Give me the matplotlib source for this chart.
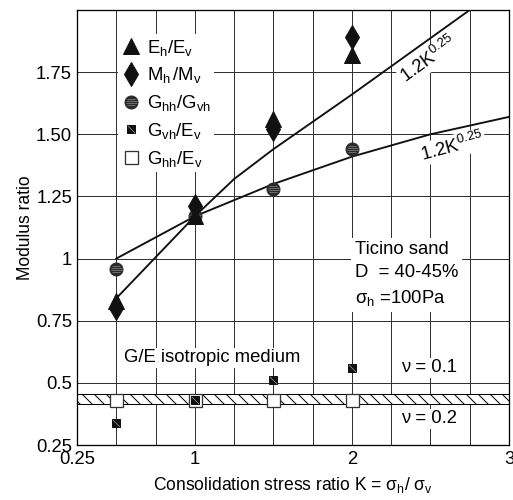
import numpy as np
import matplotlib
matplotlib.use("Agg")
import matplotlib.pyplot as plt
from matplotlib.path import Path
from matplotlib.lines import Line2D

plt.rcParams['font.family'] = 'Liberation Sans'
plt.rcParams['mathtext.fontset'] = 'custom'
plt.rcParams['mathtext.rm'] = 'Liberation Sans'
plt.rcParams['mathtext.it'] = 'Liberation Sans'
plt.rcParams['mathtext.default'] = 'regular'

# measured moduli vs consolidation stress ratio
K = [0.5, 1.0, 1.5, 2.0]
eh_ev = [0.83, 1.17, 1.56, 1.82]
mh_mv = [0.80, 1.21, 1.52, 1.89]
ghh_gvh = [0.96, 1.17, 1.28, 1.44]
gvh_ev = [0.34, 0.43, 0.51, 0.56]
ghh_ev = [0.43, 0.43, 0.43, 0.43]

# fitted trend lines
fit_upper_k = [0.5, 1.0, 1.25, 1.5, 2.0, 2.75]
fit_upper = [0.84, 1.17, 1.32, 1.44, 1.66, 2.0]
fit_lower_k = [0.5, 1.0, 1.5, 2.0, 2.5, 3.0]
fit_lower = [1.0, 1.17, 1.30, 1.41, 1.50, 1.57]

# isotropic G/E band (nu = 0.1 .. 0.2)
band_k = [0.25, 3.0]
band_top = 0.455
band_bottom = 0.415

x_ticks = [0.25, 0.5, 0.75, 1.0, 1.25, 1.5, 1.75, 2.0, 2.25, 2.5, 2.75, 3.0]
x_labels = ['0.25', '', '', '1', '', '', '', '2', '', '', '', '3']
y_ticks = [0.25, 0.5, 0.75, 1.0, 1.25, 1.5, 1.75, 2.0]
y_labels = ['0.25', '0.5', '0.75', '1', '1.25', '1.50', '1.75', '']

# marker decorations
stripes = Path([(-0.8, 0.5), (0.8, 0.5), (-1.0, 0.17), (1.0, 0.17),
                (-1.0, -0.17), (1.0, -0.17), (-0.8, -0.5), (0.8, -0.5)],
               [Path.MOVETO, Path.LINETO] * 4)
diag = Path([(-1, 1), (1, -1)], [Path.MOVETO, Path.LINETO])

fig = plt.figure(figsize=(513 / 72, 500 / 72), dpi=72)
ax = fig.add_axes([77 / 513, 55 / 500, 432 / 513, 435 / 500])

ax.set_xlim(0.25, 3.0)
ax.set_ylim(0.25, 2.0)
ax.set_xticks(x_ticks)
ax.set_xticklabels(x_labels)
ax.set_yticks(y_ticks)
ax.set_yticklabels(y_labels)
ax.tick_params(length=0, labelsize=18.5, pad=6)
ax.tick_params(axis='y', pad=5)
ax.set_axisbelow(True)
ax.grid(True, color='#333333', lw=1.0)
for s in ax.spines.values():
    s.set_linewidth(1.3)

ax.fill_between(band_k, band_bottom, band_top, facecolor='white',
                edgecolor='black', hatch='\\\\', lw=1.0, zorder=2)

ax.plot(fit_upper_k, fit_upper, color='#111111', lw=1.9, zorder=4)
ax.plot(fit_lower_k, fit_lower, color='#111111', lw=1.9, zorder=4)

ax.plot(K, ghh_gvh, ls='none', marker='o', ms=13, color='#2a2a2a', zorder=5)
ax.plot(K, ghh_gvh, ls='none', marker=stripes, ms=11, mec='#888888', mew=0.7, zorder=5)
ax.plot(K, mh_mv, ls='none', marker='d', ms=17, color='#111111', zorder=5)
ax.plot(K, eh_ev, ls='none', marker='^', ms=16, color='#111111', zorder=6)
ax.plot(K, ghh_ev, ls='none', marker='s', ms=13, mfc='white', mec='#333333', mew=1.3, zorder=5)
ax.plot(K, gvh_ev, ls='none', marker='s', ms=8, color='#111111', zorder=6)
ax.plot(K, gvh_ev, ls='none', marker=diag, ms=7, mec='#999999', mew=0.7, zorder=6)

white = dict(facecolor='white', edgecolor='none', pad=1.5)
ax.text(2.49, 1.80, r'1.2K$^{0.25}$', fontsize=18.5, rotation=36,
        ha='center', va='center', bbox=white, zorder=3)
ax.text(2.64, 1.45, r'1.2K$^{0.25}$', fontsize=18.5, rotation=15,
        ha='center', va='center', bbox=white, zorder=3)
ax.text(0.55, 0.60, 'G/E isotropic medium', fontsize=18.5, ha='left',
        va='center', bbox=white, zorder=3)
ax.text(2.31, 0.56, 'ν = 0.1', fontsize=18.5, ha='left', va='center',
        bbox=white, zorder=3)
ax.text(2.31, 0.355, 'ν = 0.2', fontsize=18.5, ha='left', va='center',
        bbox=white, zorder=3)
ax.text(2.02, 0.935, 'Ticino sand\nD  = 40-45%\n$σ_h$ =100Pa', fontsize=18.5,
        ha='left', va='center', linespacing=1.45,
        bbox=dict(facecolor='white', edgecolor='none', pad=4), zorder=3)

handles = [
    Line2D([], [], ls='none', marker='^', ms=16, color='#111111'),
    Line2D([], [], ls='none', marker='d', ms=17, color='#111111'),
    (Line2D([], [], ls='none', marker='o', ms=13, color='#2a2a2a'),
     Line2D([], [], ls='none', marker=stripes, ms=11, mec='#888888', mew=0.7)),
    (Line2D([], [], ls='none', marker='s', ms=8, color='#111111'),
     Line2D([], [], ls='none', marker=diag, ms=7, mec='#999999', mew=0.7)),
    Line2D([], [], ls='none', marker='s', ms=13, mfc='white', mec='#333333', mew=1.3),
]
labels = ['$E_h/E_v$', '$M_h\\,/M_v$', '$G_{hh}/G_{vh}$', '$G_{vh}/E_v$', '$G_{hh}/E_v$']
leg = ax.legend(handles, labels, loc='upper left', bbox_to_anchor=(0.095, 0.945),
                fontsize=18.5, frameon=True, framealpha=1, facecolor='white',
                edgecolor='none', fancybox=False, borderpad=0.2, handlelength=1.0,
                handletextpad=0.35, labelspacing=0.42, borderaxespad=0)
leg.set_zorder(7)

ax.set_xlabel('Consolidation stress ratio K = $σ_h$/ $σ_v$', fontsize=17.5, labelpad=7)
ax.set_ylabel('Modulus ratio', fontsize=17.5, labelpad=2)

fig.savefig('out.png', dpi=72)
